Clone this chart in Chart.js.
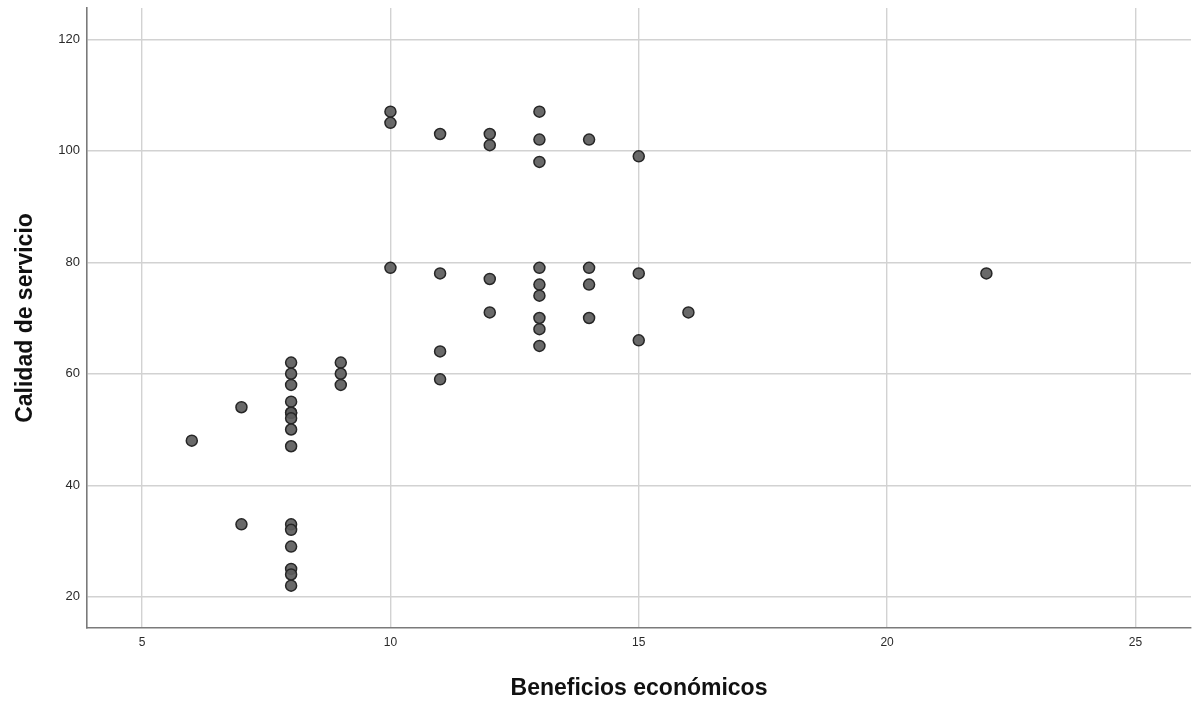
<!DOCTYPE html>
<html>
<head>
<meta charset="utf-8">
<script src="https://cdn.jsdelivr.net/npm/chart.js@4"></script>
<style>
html,body{margin:0;padding:0;background:#fff;}
#wrap{width:1192px;height:705px;position:relative;}
</style>
</head>
<body>
<div id="wrap"><canvas id="c" width="1192" height="705"></canvas></div>
<script>
// Beneficios económicos (x) and Calidad de servicio (y)
const beneficios = [
  6,
  7, 7,
  8, 8, 8, 8, 8, 8, 8, 8, 8, 8, 8, 8, 8, 8, 8,
  9, 9, 9,
  10, 10, 10,
  11, 11, 11, 11,
  12, 12, 12, 12,
  13, 13, 13, 13, 13, 13, 13, 13, 13,
  14, 14, 14, 14,
  15, 15, 15,
  16,
  22
];
const calidad = [
  48,
  54, 33,
  62, 60, 58, 55, 53, 53, 52, 50, 47, 33, 32, 29, 25, 24, 22,
  62, 60, 58,
  107, 105, 79,
  103, 78, 64, 59,
  103, 101, 77, 71,
  107, 102, 98, 79, 76, 74, 70, 68, 65,
  102, 79, 76, 70,
  99, 78, 66,
  71,
  78
];
const xTicks = [5, 10, 15, 20, 25];
const yTicks = [20, 40, 60, 80, 100, 120];
const xTitle = 'Beneficios económicos';
const yTitle = 'Calidad de servicio';

const points = beneficios.map((x, i) => ({x: x, y: calidad[i]}));

function noPad(s) {
  s.paddingTop = 0; s.paddingBottom = 0; s.paddingLeft = 0; s.paddingRight = 0;
}

new Chart(document.getElementById('c'), {
  type: 'scatter',
  data: {
    datasets: [{
      data: points,
      backgroundColor: 'rgba(92,92,92,0.92)',
      borderColor: '#262626',
      borderWidth: 1.5,
      pointRadius: 5.5,
      pointHoverRadius: 5.5
    }]
  },
  options: {
    responsive: false,
    animation: false,
    events: [],
    layout: {autoPadding: false, padding: {top: 8, right: 1, left: 0, bottom: 0}},
    plugins: {legend: {display: false}, tooltip: {enabled: false}},
    scales: {
      x: {
        type: 'linear',
        min: 3.89,
        max: 26.12,
        afterBuildTicks: s => { s.ticks = xTicks.map(v => ({value: v})); },
        afterFit: s => { s.height = 77; noPad(s); },
        grid: {color: '#d2d2d2', lineWidth: 1.4, drawTicks: false},
        border: {color: '#7a7a7a', width: 1.6},
        ticks: {
          color: '#2a2a2a',
          padding: 7,
          maxRotation: 0,
          font: {family: 'Liberation Sans', size: 12}
        },
        title: {
          display: true,
          text: xTitle,
          color: '#111',
          padding: {top: 0, bottom: 3},
          font: {family: 'Liberation Sans', size: 23, weight: 'bold'}
        }
      },
      y: {
        type: 'linear',
        min: 14.4,
        max: 125.6,
        afterBuildTicks: s => { s.ticks = yTicks.map(v => ({value: v})); },
        afterFit: s => { s.width = 87; noPad(s); },
        grid: {color: '#d2d2d2', lineWidth: 1.4, drawTicks: false},
        border: {color: '#7a7a7a', width: 1.6},
        ticks: {
          color: '#2a2a2a',
          padding: 7,
          font: {family: 'Liberation Sans', size: 13}
        },
        title: {
          display: true,
          text: yTitle,
          color: '#111',
          padding: {top: 12, bottom: 0},
          font: {family: 'Liberation Sans', size: 23, weight: 'bold'}
        }
      }
    }
  }
});
</script>
</body>
</html>
